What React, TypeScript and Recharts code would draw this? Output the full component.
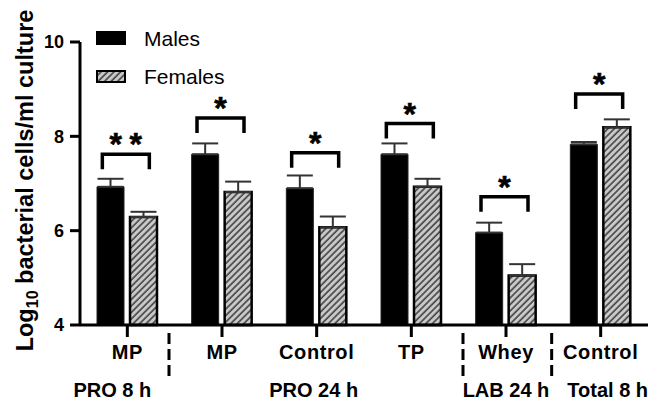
import React from 'react';
import { ComposedChart, Bar, XAxis, YAxis, ErrorBar, Scatter, Legend, Label } from 'recharts';

const categories = ['MP', 'MP', 'Control', 'TP', 'Whey', 'Control'];
const groupLabels = ['PRO 8 h', '', 'PRO 24 h', '', 'LAB 24 h', 'Total 8 h'];
const groupOffsets = [-15, 0, -3, 0, 0, 7];
const separatorOffsets = [null, -53, null, null, -43, -49];
const males = [6.93, 7.62, 6.9, 7.62, 5.96, 7.83];
const malesErr = [0.17, 0.23, 0.27, 0.23, 0.21, 0.05];
const females = [6.29, 6.82, 6.07, 6.93, 5.05, 8.19];
const femalesErr = [0.11, 0.22, 0.23, 0.17, 0.24, 0.17];
const bracketLevels = [7.62, 8.39, 7.65, 8.27, 6.72, 8.9];
const starCounts = [2, 1, 1, 1, 1, 1];
const yTicks = [4, 6, 8, 10];
const seriesNames = ['Males', 'Females'];

const data = categories.map((c, i) => ({
  id: `c${i}`,
  label: c,
  group: groupLabels[i],
  male: males[i],
  maleErr: [0, malesErr[i]],
  female: females[i],
  femaleErr: [0, femalesErr[i]],
  bracket: bracketLevels[i],
  stars: starCounts[i],
}));

const FONT = '"Liberation Sans", Arial, Helvetica, sans-serif';

const XTick = (props: any) => {
  const { x, y, payload } = props;
  const i = payload.index;
  const d = data[i];
  const sep = separatorOffsets[i];
  return (
    <g>
      <text x={x} y={y} dy={20} textAnchor="middle" fontFamily={FONT} fontWeight="bold" fontSize={20} letterSpacing={0.6} fill="#000">
        {d.label}
      </text>
      {d.group ? (
        <text x={x + groupOffsets[i]} y={y} dy={58} textAnchor="middle" fontFamily={FONT} fontWeight="bold" fontSize={20} fill="#000">
          {d.group}
        </text>
      ) : null}
      {sep != null ? (
        <line x1={x + sep} x2={x + sep} y1={y - 6} y2={y + 37} stroke="#000" strokeWidth={3} strokeDasharray="11 5" />
      ) : null}
    </g>
  );
};

const Bracket = (props: any) => {
  const { cx, cy, payload } = props;
  if (cx == null || cy == null) return null;
  const half = 23.5;
  const n = payload.stars;
  const c = cx - 1.5;
  return (
    <g>
      <path d={`M${c - half},${cy + 15} V${cy} H${c + half} V${cy + 15}`} fill="none" stroke="#000" strokeWidth={3.5} />
      {Array.from({ length: n }).map((_, k) => (
        <text key={k} x={c + (k - (n - 1) / 2) * 20} y={cy + 1} textAnchor="middle" fontFamily={FONT} fontWeight="bold" fontSize={32} fill="#000" stroke="#000" strokeWidth={0.6}>
          *
        </text>
      ))}
    </g>
  );
};

const LegendContent = (props: any) => {
  const payload = props.payload || [];
  const items = seriesNames.filter((n) => payload.some((p: any) => p.value === n));
  return (
    <div style={{ fontFamily: FONT, fontSize: 21, color: '#000' }}>
      {items.map((name: string, k: number) => (
        <div key={name} style={{ display: 'flex', alignItems: 'center', height: 38 }}>
          <svg width={30} height={14} style={{ display: 'block', marginRight: 18 }}>
            {k === 0 ? (
              <rect x={0} y={0} width={30} height={14} fill="#000" />
            ) : (
              <rect x={1} y={2} width={28} height={11} fill="url(#hatch)" stroke="#000" strokeWidth={2} />
            )}
          </svg>
          <span style={{ lineHeight: '21px' }}>{name}</span>
        </div>
      ))}
    </div>
  );
};

const YLabel = (props: any) => {
  const vb = props.viewBox || { x: 0, y: 42, height: 283 };
  const x = vb.x + 33;
  const y = vb.y + vb.height / 2 - 3;
  return (
    <text x={x} y={y} transform={`rotate(-90, ${x}, ${y})`} textAnchor="middle" fontFamily={FONT} fontWeight="bold" fontSize={23.5} fill="#000">
      Log
      <tspan fontSize={16} dy={5}>10</tspan>
      <tspan dy={-5}> bacterial cells/ml culture</tspan>
    </text>
  );
};

export default function App() {
  return (
    <div style={{ position: 'absolute', left: 0, top: 0, width: 651, height: 400, background: '#fff' }}>
      <ComposedChart width={651} height={400} data={data} margin={{ top: 42, right: 3, bottom: 45, left: 0 }} barGap={6}>
        <defs>
          <pattern id="hatch" patternUnits="userSpaceOnUse" width={4.6} height={4.6} patternTransform="rotate(45)">
            <rect x={0} y={0} width={4.6} height={4.6} fill="#c9c9c9" />
            <line x1={1} y1={0} x2={1} y2={4.6} stroke="#222" strokeWidth={1.3} />
          </pattern>
        </defs>
        <XAxis
          dataKey="id"
          tick={<XTick />}
          tickSize={12}
          height={30}
          interval={0}
          axisLine={{ stroke: '#000', strokeWidth: 3 }}
          tickLine={{ stroke: '#000', strokeWidth: 3 }}
        />
        <YAxis
          type="number"
          domain={[4, 10]}
          ticks={yTicks}
          width={80}
          tickSize={10}
          tickMargin={6}
          axisLine={{ stroke: '#000', strokeWidth: 3 }}
          tickLine={{ stroke: '#000', strokeWidth: 3 }}
          tick={{ fontFamily: FONT, fontWeight: 'bold', fontSize: 18, fill: '#000' }}
        >
          <Label content={<YLabel />} />
        </YAxis>
        <Legend
          content={<LegendContent />}
          layout="vertical"
          align="center"
          verticalAlign="middle"
          wrapperStyle={{ top: 19, left: 96, width: 'auto', height: 'auto' }}
        />
        <Bar dataKey="male" name={seriesNames[0]} fill="#000" stroke="#222" strokeWidth={1} barSize={27} isAnimationActive={false}>
          <ErrorBar dataKey="maleErr" width={13} strokeWidth={2} stroke="#333" direction="y" />
        </Bar>
        <Bar dataKey="female" name={seriesNames[1]} fill="url(#hatch)" stroke="#000" strokeWidth={2.5} barSize={27} isAnimationActive={false}>
          <ErrorBar dataKey="femaleErr" width={13} strokeWidth={2} stroke="#333" direction="y" />
        </Bar>
        <Scatter dataKey="bracket" legendType="none" shape={<Bracket />} isAnimationActive={false} />
      </ComposedChart>
    </div>
  );
}
